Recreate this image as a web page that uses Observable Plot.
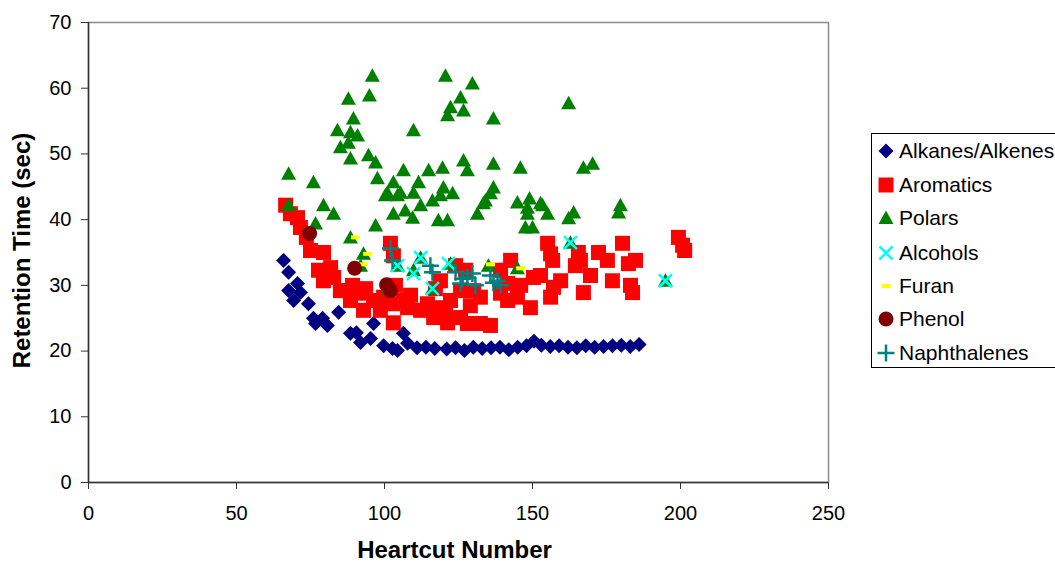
<!DOCTYPE html>
<html>
<head>
<meta charset="utf-8">
<script src="https://cdn.jsdelivr.net/npm/d3@7"></script>
<script src="https://cdn.jsdelivr.net/npm/@observablehq/plot@0.6"></script>
<style>
  html, body { margin: 0; padding: 0; background: #fff; }
  #wrap { position: relative; width: 1055px; height: 562px; overflow: hidden; font-family: "Liberation Sans", Arial, sans-serif; }
  #legend { position: absolute; left: 871px; top: 133px; width: 200px; height: 235px; border: 1.5px solid #000; background: #fff; box-sizing: border-box; }
  .row { position: absolute; left: 0; height: 30px; display: flex; align-items: center; font-size: 21px; color: #000; white-space: nowrap; }
  .row svg { width: 26px; height: 30px; flex: none; }
</style>
</head>
<body>
<div id="wrap"></div>
<script>
// ---------- data ----------
const seriesNames = ["Alkanes/Alkenes", "Aromatics", "Polars", "Alcohols", "Furan", "Phenol", "Naphthalenes"];
const xTicks = [0, 50, 100, 150, 200, 250];
const yTicks = [0, 10, 20, 30, 40, 50, 60, 70];

const alkanesX = [65.9, 67.6, 70.6, 67.6, 71.6, 69.3, 74.3, 76.0, 79.1, 80.7, 76.7, 84.5, 88.5, 90.5, 91.9, 95.3, 96.3, 99.7, 102.7, 104.4, 106.4, 107.8, 111, 114, 117, 121, 124, 127, 130, 133, 136, 139, 142, 145, 148, 150.5, 153, 156, 159, 162, 165, 168, 171, 174, 177, 180, 183, 186];
const alkanesY = [33.8, 32.0, 30.3, 29.2, 28.9, 27.7, 27.2, 25.0, 25.0, 23.9, 24.2, 25.9, 22.7, 22.8, 21.3, 21.9, 24.2, 20.8, 20.4, 20.1, 22.7, 21.2, 20.5, 20.6, 20.4, 20.3, 20.5, 20.1, 20.6, 20.4, 20.5, 20.6, 20.2, 20.6, 20.8, 21.5, 20.9, 20.7, 20.8, 20.6, 20.5, 20.8, 20.6, 20.7, 20.8, 20.9, 20.7, 21.0];

const aromaticsX = [66.6, 68.2, 70.6, 71.6, 73.6, 75.0, 79.4, 77.7, 81.8, 79.4, 82.8, 85.1, 87.5, 89.2, 91.9, 92.9, 96.3, 99.7, 102.0, 103.0, 102.7, 103.0, 106.4, 107.8, 112.2, 114.5, 116.6, 118.9, 121.3, 125.7, 128.0, 132.4, 135.8, 122.3, 125.7, 130.1, 132.4, 139.2, 141.6, 144.9, 149.3, 150.3, 155.1, 156.1, 157.1, 156.1, 156.8, 165.5, 166.2, 172.3, 175.3, 180.4, 182.4, 184.8, 159.5, 167.2, 169.6, 183.1, 183.8, 199.3, 200.7, 201.4, 141.6, 88.5, 93.6, 98.6, 103.7, 108.8, 117.2, 120.6, 129.0, 146.0, 152.7, 164.5, 177.0, 118.9, 124.0, 127.4, 139.2, 142.6];
const aromaticsY = [42.2, 40.9, 40.3, 38.8, 37.3, 35.3, 35.0, 32.3, 32.7, 30.7, 31.2, 29.2, 29.2, 30.0, 28.8, 26.2, 27.7, 28.2, 36.4, 34.5, 27.2, 24.3, 27.7, 26.6, 26.2, 27.2, 25.1, 26.6, 24.3, 25.1, 24.2, 24.2, 23.9, 27.7, 29.2, 29.2, 28.2, 28.8, 27.7, 28.2, 26.6, 31.2, 36.4, 34.8, 29.7, 28.2, 33.8, 35.0, 33.8, 35.0, 33.8, 36.4, 33.3, 33.8, 30.7, 28.9, 31.5, 30.0, 28.9, 37.3, 36.1, 35.3, 30.3, 27.7, 29.5, 26.2, 30.0, 28.5, 29.5, 26.2, 26.9, 30.0, 31.5, 33.0, 30.7, 30.7, 33.0, 32.3, 32.3, 33.8];

const polarsX = [95.9, 94.9, 87.8, 89.5, 84.1, 88.5, 90.9, 87.8, 85.1, 88.5, 94.6, 97.0, 97.6, 103.0, 106.4, 101.0, 105.4, 109.8, 111.5, 114.9, 119.6, 119.9, 123.0, 126.7, 128.0, 136.8, 136.8, 134.1, 145.9, 144.9, 148.3, 109.8, 121.3, 125.7, 122.3, 126.7, 129.7, 120.6, 136.8, 67.6, 76.0, 67.6, 79.4, 82.8, 76.7, 97.0, 103.0, 109.5, 112.2, 118.2, 121.3, 131.4, 135.8, 147.6, 88.5, 162.2, 167.2, 170.3, 133.4, 149.0, 148.3, 153.4, 155.1, 163.9, 162.2, 179.7, 179.1, 150.0, 92.9, 91.9, 101.4, 104.4, 109.8, 112.2, 116.2, 122.3, 135.1, 144.9, 162.8, 194.9, 100.3, 104.4, 118.9, 152.7, 107.0, 116.2];
const polarsY = [61.9, 58.9, 58.4, 55.4, 53.6, 53.3, 52.8, 51.7, 51.0, 49.3, 49.8, 48.7, 46.3, 45.7, 47.5, 44.1, 44.1, 44.1, 45.7, 47.5, 47.9, 44.9, 44.0, 49.0, 47.5, 48.5, 44.9, 42.9, 47.9, 42.6, 41.8, 53.6, 55.9, 58.6, 57.1, 56.6, 60.7, 61.9, 55.4, 47.0, 45.7, 42.2, 42.2, 40.9, 39.4, 39.1, 40.9, 40.3, 42.2, 39.9, 39.9, 40.9, 44.0, 38.8, 37.3, 57.7, 47.9, 48.5, 42.5, 43.2, 40.9, 42.2, 40.9, 41.1, 40.2, 42.2, 41.1, 38.8, 34.8, 33.0, 29.5, 33.0, 32.3, 34.2, 29.5, 33.3, 33.0, 32.6, 36.5, 30.7, 43.7, 43.7, 43.7, 42.5, 41.4, 42.9];

const alcoholsX = [104.4, 112.2, 109.8, 116.2, 121.6, 162.8, 194.9];
const alcoholsY = [33.0, 34.2, 31.8, 29.5, 33.3, 36.5, 30.7];

const furanX = [90.2, 94.3, 92.9, 135.8, 146.0];
const furanY = [37.3, 34.8, 33.2, 33.2, 32.6];

const phenolX = [74.7, 89.9, 100.7, 102.0];
const phenolY = [37.9, 32.6, 30.1, 29.2];

const naphX = [102.0, 102.7, 115.5, 116.2, 126.4, 128.0, 129.7, 125.7, 136.8, 138.2, 139.2, 135.8, 124.0, 130.7];
const naphY = [35.6, 33.8, 33.0, 32.0, 31.0, 31.2, 31.8, 30.3, 30.4, 30.7, 30.0, 31.5, 32.0, 30.0];

// ---------- symbols (drawn in pixels) ----------
const symDiamond = { draw(c) { const h = 7.5; c.moveTo(0, -h); c.lineTo(h, 0); c.lineTo(0, h); c.lineTo(-h, 0); c.closePath(); } };
const symSquare = { draw(c) { const h = 7.5; c.rect(-h, -h, 2 * h, 2 * h); } };
const symTriangle = { draw(c) { c.moveTo(0, -7.5); c.lineTo(7.5, 6); c.lineTo(-7.5, 6); c.closePath(); } };
const symTimes = { draw(c) { const h = 6.5; c.moveTo(-h, -h); c.lineTo(h, h); c.moveTo(h, -h); c.lineTo(-h, h); } };
const symDash = { draw(c) { c.rect(-4.5, -2, 9, 4); } };
const symCircle = { draw(c) { c.moveTo(7.5, 0); c.arc(0, 0, 7.5, 0, 2 * Math.PI); c.closePath(); } };
const symPlus = { draw(c) { const h = 8.5; c.moveTo(-h, 0); c.lineTo(h, 0); c.moveTo(0, -h); c.lineTo(0, h); } };

const styles = [
  { sym: symDiamond, fill: "#000080", stroke: "none", sw: 0 },
  { sym: symSquare, fill: "#FF0000", stroke: "none", sw: 0 },
  { sym: symTriangle, fill: "#008000", stroke: "none", sw: 0 },
  { sym: symTimes, fill: "none", stroke: "#00FFFF", sw: 2.5 },
  { sym: symDash, fill: "#FFFF00", stroke: "none", sw: 0 },
  { sym: symCircle, fill: "#800000", stroke: "none", sw: 0 },
  { sym: symPlus, fill: "none", stroke: "#008080", sw: 2.5 }
];
const seriesData = [
  [alkanesX, alkanesY], [aromaticsX, aromaticsY], [polarsX, polarsY],
  [alcoholsX, alcoholsY], [furanX, furanY], [phenolX, phenolY], [naphX, naphY]
].map(([xs, ys]) => xs.map((x, i) => ({ x, y: ys[i] })));

const dotMarks = seriesData.map((d, i) => Plot.dot(d, {
  x: "x", y: "y", r: 1, symbol: styles[i].sym,
  fill: styles[i].fill, stroke: styles[i].stroke, strokeWidth: styles[i].sw
}));

const chart = Plot.plot({
  width: 1055, height: 562,
  marginLeft: 88, marginRight: 227, marginTop: 22, marginBottom: 80,
  x: { domain: [0, 250] },
  y: { domain: [0, 70] },
  style: { fontFamily: "'Liberation Sans', Arial, sans-serif", color: "#000", background: "#fff", overflow: "visible" },
  marks: [
    Plot.frame({ stroke: "#8c8c8c", strokeWidth: 1.5 }),
    ...dotMarks,
    Plot.ruleX([0], { stroke: "#333", strokeWidth: 1.5 }),
    Plot.ruleY([0], { stroke: "#333", strokeWidth: 1.5 }),
    Plot.axisX({ ticks: xTicks, tickSize: 7, tickPadding: 16, fontSize: 20, label: null, stroke: "#333" }),
    Plot.axisY({ ticks: yTicks, tickSize: 7, tickPadding: 10, fontSize: 20, label: null, stroke: "#333", tickFormat: d => String(d) }),
    Plot.text(["Heartcut Number"], { text: d => d, frameAnchor: "bottom", textAnchor: "middle", lineAnchor: "bottom", dx: -4, dy: 75, fontSize: 24, fontWeight: "bold", fill: "#000" }),
    Plot.text(["Retention Time (sec)"], { text: d => d, frameAnchor: "left", textAnchor: "middle", lineAnchor: "middle", rotate: -90, dx: -66, dy: -2, fontSize: 24, fontWeight: "bold", fill: "#000" })
  ]
});
const wrap = document.getElementById("wrap");
wrap.appendChild(chart);

// ---------- legend ----------
const legend = document.createElement("div");
legend.id = "legend";
const rowCenters = [17, 51, 84, 119, 152, 185, 219];
seriesNames.forEach((name, i) => {
  const row = document.createElement("div");
  row.className = "row";
  row.style.top = (rowCenters[i] - 15) + "px";
  row.style.left = "1px";
  const svg = d3.create("svg").attr("width", 26).attr("height", 30);
  svg.append("path")
    .attr("transform", "translate(13,15)")
    .attr("d", d3.symbol(styles[i].sym, 64)())
    .attr("fill", styles[i].fill)
    .attr("stroke", styles[i].stroke)
    .attr("stroke-width", styles[i].sw);
  row.appendChild(svg.node());
  const span = document.createElement("span");
  span.textContent = name;
  row.appendChild(span);
  legend.appendChild(row);
});
wrap.appendChild(legend);
</script>
</body>
</html>
